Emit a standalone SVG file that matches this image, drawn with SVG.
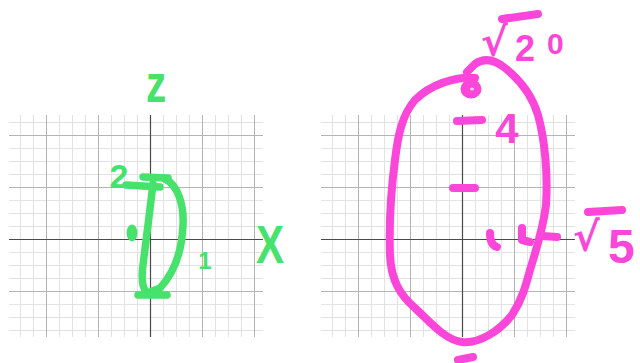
<svg xmlns="http://www.w3.org/2000/svg" xmlns:xlink="http://www.w3.org/1999/xlink" width="640" height="363" viewBox="0 0 640 363">
<style>
.minor{stroke:#e2e2e2;stroke-width:1;fill:none}
.major{stroke:#b4b4b4;stroke-width:1;fill:none}
.axis{stroke:#4a4a4a;stroke-width:1.2;fill:none}
.g{stroke:#46e26c;stroke-width:7.5;fill:none;stroke-linecap:round;stroke-linejoin:round}
.p{stroke:#fb47d9;stroke-width:8;fill:none;stroke-linecap:round;stroke-linejoin:round}
.gt{fill:#46e26c;font-family:"Liberation Sans",Arial,sans-serif;font-weight:bold}
.pt{fill:#fb47d9;font-family:"Liberation Sans",Arial,sans-serif;font-weight:bold}
.rad{font-family:"DejaVu Sans",sans-serif}
</style>
<defs>
<g id="grid">
<path class="minor" d="M20.5,115V337M33.5,115V337M59.5,115V337M72.5,115V337M85.5,115V337M111.5,115V337M124.5,115V337M137.5,115V337M163.5,115V337M176.5,115V337M189.5,115V337M215.5,115V337M228.5,115V337M241.5,115V337M9,122.5H263M9,148.5H263M9,161.5H263M9,174.5H263M9,200.5H263M9,213.5H263M9,226.5H263M9,252.5H263M9,265.5H263M9,278.5H263M9,304.5H263M9,317.5H263M9,330.5H263"/>
<path class="major" d="M46.5,115V337M98.5,115V337M202.5,115V337M254.5,115V337M9,135.5H263M9,187.5H263M9,291.5H263"/>
<path class="axis" d="M150.5,115V337M9,239.5H263"/>
</g>
</defs>
<rect width="640" height="363" fill="#ffffff"/>
<g id="left-graph">
<use xlink:href="#grid" href="#grid"/>
<g id="green-curve">
<path class="g" d="M143,177 L168,178"/>
<path class="g" d="M126,185 L160,187"/>
<path class="g" d="M165,179 C178,185 184,205 183,225 C182,250 175,272 160,288 L150,292"/>
<path class="g" d="M153,184 C150,210 146,240 143,265 C141,280 143,288 146,292"/>
<path class="g" d="M138,295 L167,295"/>
<ellipse cx="132" cy="233" rx="5.5" ry="8.5" fill="#46e26c"/>
</g>
<g id="green-labels">
<text class="gt" transform="translate(156,102) scale(0.75,1)" x="0" y="0" font-size="54" text-anchor="middle">z</text>
<text class="gt" x="119" y="188" font-size="34" text-anchor="middle">2</text>
<text class="gt" x="205" y="269" font-size="24" font-weight="normal" text-anchor="middle">1</text>
<text class="gt" transform="translate(270,263) scale(0.78,1)" x="0" y="0" font-size="54" text-anchor="middle">X</text>
</g>
</g>
<g id="right-graph">
<use xlink:href="#grid" href="#grid" transform="translate(312,0)"/>
<g id="pink-curve">
<path class="p" d="M475,78 C455,76 430,85 415,100 C402,115 398,135 395,160 C391,190 389,225 390,255 C391,280 400,295 415,308 C430,322 445,340 462,342 C480,344 500,330 512,315 C522,300 526,285 530,270 C536,250 543,230 546,205 C548,175 545,140 538,115 C532,95 520,80 505,68 C495,60 485,57 475,64 L467,72"/>
<ellipse cx="471" cy="89" rx="10.5" ry="9.5" fill="#fb47d9"/>
<ellipse cx="472" cy="89" rx="2" ry="1.5" fill="#ffffff" opacity="0.7"/>
<path class="p" stroke-width="6.5" d="M457,121 L482,120"/>
<path class="p" stroke-width="6.5" d="M453,188 L475,188"/>
<path class="p" stroke-width="4.5" d="M490,233 Q490,245 497,247"/>
<path class="p" stroke-width="4.5" d="M522,228 L522,240 L530,242"/>
<path class="p" stroke-width="6.5" d="M543,236 L557,237"/>
<path class="p" stroke-width="5" d="M458,360 L473,357"/>
<path class="p" stroke-width="5.5" d="M502,19 L538,14"/>
<path class="p" stroke-width="5.5" d="M588,212 L622,210"/>
</g>
<g id="pink-labels">
<text class="pt" x="507" y="143" font-size="42" text-anchor="middle">4</text>
<text class="pt"><tspan class="rad" x="481" y="56" font-size="40">√</tspan><tspan x="515" y="61" font-size="36">2</tspan><tspan x="547" y="54" font-size="30">0</tspan></text>
<text class="pt"><tspan class="rad" x="573" y="251" font-size="40">√</tspan><tspan x="608" y="263" font-size="48">5</tspan></text>
</g>
</g>
</svg>
